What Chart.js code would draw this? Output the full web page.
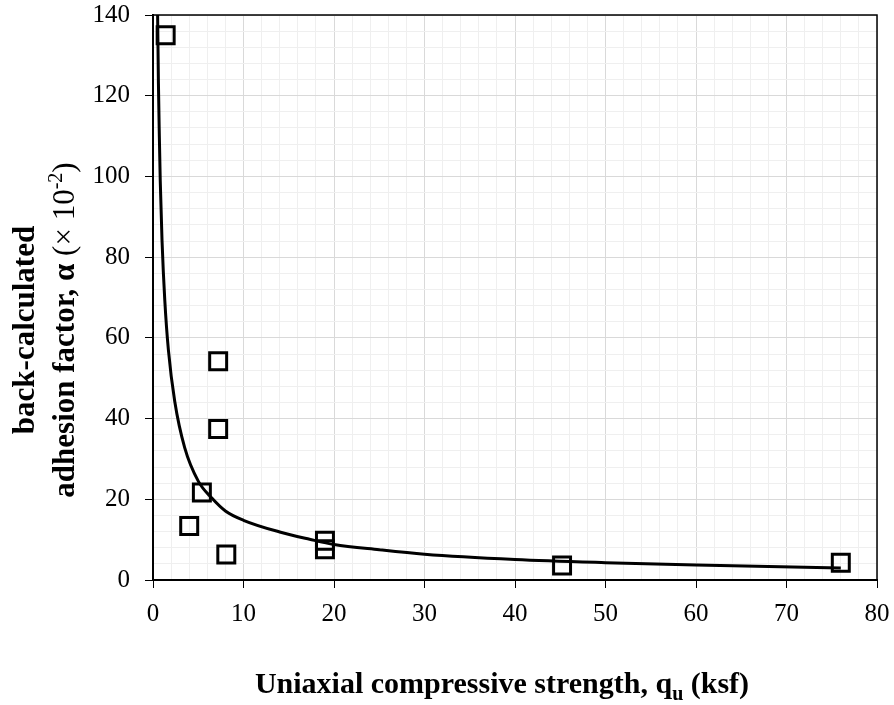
<!DOCTYPE html>
<html>
<head>
<meta charset="utf-8">
<script src="https://cdn.jsdelivr.net/npm/chart.js@4"></script>
<style>
  html, body { margin: 0; padding: 0; background: #fff; }
  #wrap { width: 894px; height: 705px; }
</style>
</head>
<body>
<div id="wrap"><canvas id="chart" width="894" height="705"></canvas></div>
<script>
// measured points: uniaxial compressive strength (ksf) vs back-calculated alpha (x 10^-2)
const qu = [1.4, 7.2, 7.2, 5.4, 4.0, 8.1, 19.0, 19.0, 45.2, 76.0];
const alpha = [135, 54.2, 37.4, 21.7, 13.4, 6.3, 9.7, 7.6, 3.6, 4.3];

// trend line
const trendX = [0.51, 0.6, 0.7, 0.8, 1.0, 1.3, 1.7, 2.4, 3.5, 5, 6.5, 8, 10, 14, 17.3, 20, 25, 30, 40, 50, 60, 76];
const trendY = [140, 123, 110, 99, 84, 69.4, 57, 44.3, 32.8, 24.5, 20.3, 17.1, 14.8, 11.9, 10.1, 8.8, 7.5, 6.4, 5.1, 4.3, 3.7, 3.0];

const xMax = 80, xMajor = 10, xMinor = 2;
const yMax = 140, yMajor = 20, yMinor = 4;

const serif = "'Liberation Serif', 'Times New Roman', serif";

const pts = qu.map((x, i) => ({ x: x, y: alpha[i] }));
const trend = trendX.map((x, i) => ({ x: x, y: trendY[i] }));

const isMajor = (v, step) => Math.abs(v / step - Math.round(v / step)) < 1e-6;

// draw a line of text pieces centred on cx
function drawPieces(ctx, pieces, cx, cy) {
  let total = 0;
  pieces.forEach(p => { ctx.font = p.font; p.w = ctx.measureText(p.t).width; total += p.w; });
  let x = cx - total / 2;
  pieces.forEach(p => {
    ctx.font = p.font;
    ctx.fillText(p.t, x, cy + (p.dy || 0));
    x += p.w;
  });
}

const titles = {
  id: 'titles',
  afterDraw(chart) {
    const ctx = chart.ctx;
    const a = chart.chartArea;
    ctx.save();
    // frame
    ctx.strokeStyle = '#000';
    ctx.lineWidth = 1.5;
    ctx.strokeRect(a.left, a.top, a.right - a.left, a.bottom - a.top);
    ctx.fillStyle = '#000';
    ctx.textBaseline = 'alphabetic';
    // x title
    drawPieces(ctx, [
      { t: 'Uniaxial compressive strength, q', font: 'bold 30px ' + serif },
      { t: 'u', font: 'bold 20px ' + serif, dy: 7 },
      { t: ' (ksf)', font: 'bold 30px ' + serif }
    ], 502, 693);
    // y title
    ctx.translate(0, 330);
    ctx.rotate(-Math.PI / 2);
    drawPieces(ctx, [
      { t: 'back-calculated', font: 'bold 31px ' + serif }
    ], 0, 34);
    drawPieces(ctx, [
      { t: 'adhesion factor, ', font: 'bold 31px ' + serif },
      { t: 'α', font: 'bold 31px ' + serif },
      { t: ' (× 10', font: '31px ' + serif },
      { t: '-2', font: '20px ' + serif, dy: -12 },
      { t: ')', font: '31px ' + serif }
    ], 0, 74);
    ctx.restore();
  }
};

new Chart(document.getElementById('chart'), {
  type: 'scatter',
  data: {
    datasets: [
      {
        label: 'Measured',
        data: pts,
        pointStyle: 'rect',
        pointRadius: 12,
        pointHoverRadius: 12,
        pointBorderWidth: 3,
        borderColor: '#000',
        backgroundColor: 'rgba(0,0,0,0)',
        order: 2
      },
      {
        label: 'Trend',
        data: trend,
        showLine: true,
        pointRadius: 0,
        borderColor: '#000',
        borderWidth: 3,
        cubicInterpolationMode: 'monotone',
        order: 1
      }
    ]
  },
  options: {
    responsive: false,
    animation: false,
    layout: { padding: { left: 0, right: 17, top: 15, bottom: 0 } },
    plugins: { legend: { display: false }, tooltip: { enabled: false } },
    scales: {
      x: {
        type: 'linear',
        min: 0, max: xMax,
        afterFit: s => { s.height = 125; s.paddingLeft = 0; s.paddingRight = 0; },
        border: { color: '#000', width: 2 },
        grid: {
          color: c => isMajor(c.tick.value, xMajor) ? '#d9d9d9' : '#efefef',
          tickColor: c => isMajor(c.tick.value, xMajor) ? '#000' : 'rgba(0,0,0,0)',
          tickLength: 8,
          lineWidth: 1
        },
        ticks: {
          stepSize: xMinor,
          autoSkip: false,
          maxRotation: 0,
          color: '#000',
          padding: 11,
          font: { family: serif, size: 25 },
          callback: v => isMajor(v, xMajor) ? v : ''
        }
      },
      y: {
        type: 'linear',
        min: 0, max: yMax,
        afterFit: s => { s.width = 153; s.paddingTop = 0; s.paddingBottom = 0; },
        border: { color: '#000', width: 2 },
        grid: {
          color: c => isMajor(c.tick.value, yMajor) ? '#d9d9d9' : '#efefef',
          tickColor: c => isMajor(c.tick.value, yMajor) ? '#000' : 'rgba(0,0,0,0)',
          tickLength: 8,
          lineWidth: 1
        },
        ticks: {
          stepSize: yMinor,
          autoSkip: false,
          color: '#000',
          padding: 15,
          font: { family: serif, size: 25 },
          callback: v => isMajor(v, yMajor) ? v : ''
        }
      }
    }
  },
  plugins: [titles]
});
</script>
</body>
</html>
